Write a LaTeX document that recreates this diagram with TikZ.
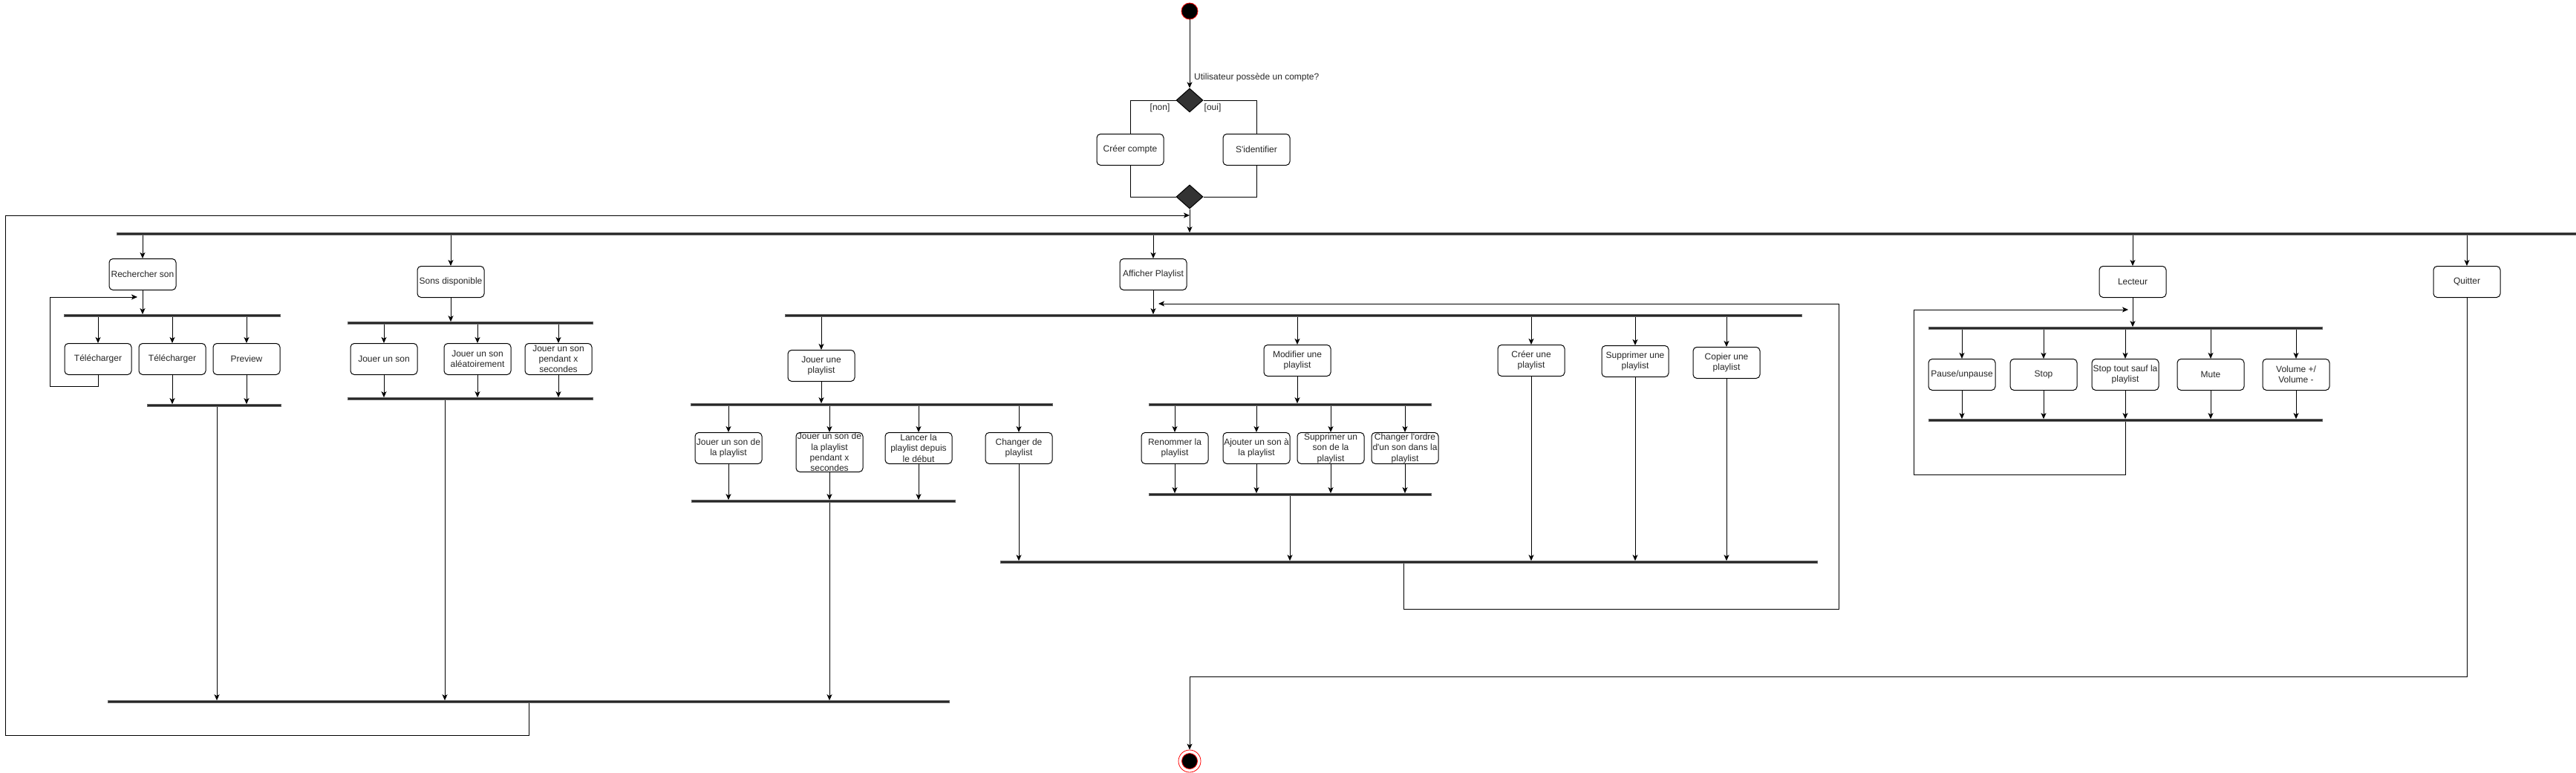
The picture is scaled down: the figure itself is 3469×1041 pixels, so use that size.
\documentclass[tikz,border=0pt]{standalone}
\usepackage{fontspec}
\setmainfont{Liberation Sans}
\usetikzlibrary{positioning, arrows.meta, shapes.geometric, calc}

\begin{document}
\begin{tikzpicture}[
    x=1pt, y=-1pt,
    act/.style={rectangle, rounded corners=5pt, draw=black, line width=1pt, fill=white, anchor=north, minimum width=90pt, minimum height=42pt, inner xsep=1pt, inner ysep=0.5pt, align=center, font=\fontsize{12}{14.4}\selectfont, text=black!85},
    bar/.style={rectangle, fill=black!85, draw=black!60, line width=0.6pt, inner sep=0pt, minimum height=3pt},
    choice/.style={diamond, fill=black!80, draw=black, line width=1pt, inner sep=0pt, minimum width=36pt, minimum height=32pt},
    lbl/.style={font=\fontsize{12}{14.4}\selectfont, text=black!85, inner sep=1pt},
    arr/.style={-{Stealth[length=8pt, width=7pt, inset=2pt]}, line width=1pt, black},
    link/.style={line width=1pt, black},
]
\useasboundingbox (0,0) rectangle (3469,1041);

% Connexion
\node[circle, fill=black, draw=red, line width=0.8pt, minimum size=22pt, inner sep=0pt] (start) at (1602,15) {};
\node[choice] (dec1) at (1602,135) {};
\node[lbl, anchor=west] (q1) at (1607,104) {Utilisateur possède un compte?};
\node[lbl] (gnon) at (1562,145) {[non]};
\node[lbl] (goui) at (1633,145) {[oui]};
\node[act] (creer) at (1522,180) {Créer compte};
\node[act] (ident) at (1692,180) {S\textquotesingle identifier};
\node[choice] (dec2) at (1602,265) {};

\draw[arr] (start) -- (dec1);
\draw[link] (dec1.west) -| (creer.north);
\draw[link] (dec1.east) -| (ident.north);
\draw[link] (creer.south) |- (dec2.west);
\draw[link] (ident.south) |- (dec2.east);

% Menu principal
\node[bar, minimum width=3312pt] (b0) at (1813,315) {};
\coordinate (back0) at (1602,290);
\draw[arr] (dec2.south) -- (dec2.south |- b0.north);

\node[act] (rs) at (192,348) {Rechercher son};
\node[act] (sd) at (607,358) {Sons disponible};
\node[act] (ap) at (1553,348) {Afficher Playlist};
\node[act] (lec) at (2872,358) {Lecteur};
\node[act] (quit) at (3322,358) {Quitter};

\draw[arr] (rs.north |- b0.south) -- (rs.north);
\draw[arr] (sd.north |- b0.south) -- (sd.north);
\draw[arr] (ap.north |- b0.south) -- (ap.north);
\draw[arr] (lec.north |- b0.south) -- (lec.north);
\draw[arr] (quit.north |- b0.south) -- (quit.north);

% Rechercher son
\node[bar, minimum width=291pt] (b1) at (232,425) {};
\node[act] (tel1) at (132,462) {Télécharger};
\node[act] (tel2) at (232,462) {Télécharger};
\node[act] (prev) at (332,462) {Preview};
\node[bar, minimum width=180pt] (b2) at (288,546) {};
\coordinate (rsback) at (185,400);

\draw[arr] (rs.south) -- (rs.south |- b1.north);
\draw[arr] (tel1.north |- b1.south) -- (tel1.north);
\draw[arr] (tel2.north |- b1.south) -- (tel2.north);
\draw[arr] (prev.north |- b1.south) -- (prev.north);
\draw[arr] (tel2.south) -- (tel2.south |- b2.north);
\draw[arr] (prev.south) -- (prev.south |- b2.north);
\draw[arr] (tel1.south) -- ++(0,15) -| (67,400) -- (rsback);

% Sons disponible
\node[bar, minimum width=330pt] (b3) at (633,435) {};
\node[act] (js1) at (517,462) {Jouer un son};
\node[act] (js2) at (643,462) {Jouer un son\\aléatoirement};
\node[act] (js3) at (752,462) {Jouer un son\\pendant x\\secondes};
\node[bar, minimum width=330pt] (b4) at (633,537) {};

\draw[arr] (sd.south) -- (sd.south |- b3.north);
\draw[arr] (js1.north |- b3.south) -- (js1.north);
\draw[arr] (js2.north |- b3.south) -- (js2.north);
\draw[arr] (js3.north |- b3.south) -- (js3.north);
\draw[arr] (js1.south) -- (js1.south |- b4.north);
\draw[arr] (js2.south) -- (js2.south |- b4.north);
\draw[arr] (js3.south) -- (js3.south |- b4.north);

% Retour au menu
\node[bar, minimum width=1133pt] (bF) at (712,945) {};
\coordinate (rsout) at ([xshift=4pt]b2.south);
\coordinate (sdout) at ([xshift=-34pt]b4.south);
\draw[arr] (rsout) -- (rsout |- bF.north);
\draw[arr] (sdout) -- (sdout |- bF.north);
\draw[arr] (bF.south) -- ++(0,44) -| (7,290) -- (back0);

% Afficher Playlist
\node[bar, minimum width=1369pt] (b5) at (1742,425) {};
\node[act] (jp) at (1106,471) {Jouer une\\playlist};
\node[act] (mp) at (1747,464) {Modifier une\\playlist};
\node[act] (cp) at (2062,464) {Créer une\\playlist};
\node[act] (spl) at (2202,465) {Supprimer une\\playlist};
\node[act] (cop) at (2325,467) {Copier une\\playlist};

\draw[arr] (ap.south) -- (ap.south |- b5.north);
\draw[arr] (jp.north |- b5.south) -- (jp.north);
\draw[arr] (mp.north |- b5.south) -- (mp.north);
\draw[arr] (cp.north |- b5.south) -- (cp.north);
\draw[arr] (spl.north |- b5.south) -- (spl.north);
\draw[arr] (cop.north |- b5.south) -- (cop.north);

% Jouer une playlist
\node[bar, minimum width=487pt] (b6) at (1174,545) {};
\node[act] (jp1) at (981,582) {Jouer un son de\\la playlist};
\node[act] (jp2) at (1117,582) {Jouer un son de\\la playlist\\pendant x\\secondes};
\node[act] (jp3) at (1237,582) {Lancer la\\playlist depuis\\le début};
\node[act] (jp4) at (1372,582) {Changer de\\playlist};
\node[bar, minimum width=355pt] (b7) at (1109,675) {};

\draw[arr] (jp.south) -- (jp.south |- b6.north);
\draw[arr] (jp1.north |- b6.south) -- (jp1.north);
\draw[arr] (jp2.north |- b6.south) -- (jp2.north);
\draw[arr] (jp3.north |- b6.south) -- (jp3.north);
\draw[arr] (jp4.north |- b6.south) -- (jp4.north);
\draw[arr] (jp1.south) -- (jp1.south |- b7.north);
\draw[arr] (jp2.south) -- (jp2.south |- b7.north);
\draw[arr] (jp3.south) -- (jp3.south |- b7.north);
\draw[arr] (jp2.south |- b7.south) -- (jp2.south |- bF.north);

% Modifier une playlist
\node[bar, minimum width=380pt] (b8) at (1737,545) {};
\node[act] (mp1) at (1582,582) {Renommer la\\playlist};
\node[act] (mp2) at (1692,582) {Ajouter un son à\\la playlist};
\node[act] (mp3) at (1792,582) {Supprimer un\\son de la\\playlist};
\node[act] (mp4) at (1892,582) {Changer l\textquotesingle ordre\\d\textquotesingle un son dans la\\playlist};
\node[bar, minimum width=380pt] (b9) at (1737,666) {};

\draw[arr] (mp.south) -- (mp.south |- b8.north);
\draw[arr] (mp1.north |- b8.south) -- (mp1.north);
\draw[arr] (mp2.north |- b8.south) -- (mp2.north);
\draw[arr] (mp3.north |- b8.south) -- (mp3.north);
\draw[arr] (mp4.north |- b8.south) -- (mp4.north);
\draw[arr] (mp1.south) -- (mp1.south |- b9.north);
\draw[arr] (mp2.south) -- (mp2.south |- b9.north);
\draw[arr] (mp3.south) -- (mp3.south |- b9.north);
\draw[arr] (mp4.south) -- (mp4.south |- b9.north);

% Retour a Afficher Playlist
\node[bar, minimum width=1100pt] (bJ) at (1897,757) {};
\coordinate (apback) at (1560,409);
\draw[arr] (jp4.south) -- (jp4.south |- bJ.north);
\draw[arr] (b9.south) -- (b9.south |- bJ.north);
\draw[arr] (cp.south) -- (cp.south |- bJ.north);
\draw[arr] (spl.south) -- (spl.south |- bJ.north);
\draw[arr] (cop.south) -- (cop.south |- bJ.north);
\draw[arr] ([xshift=-7pt]bJ.south) -- ++(0,62) -| (2476,409) -- (apback);

% Lecteur
\node[bar, minimum width=530pt] (b10) at (2862,442) {};
\node[act] (pau) at (2642,483) {Pause/unpause};
\node[act] (stp) at (2752,483) {Stop};
\node[act] (sts) at (2862,483) {Stop tout sauf la\\playlist};
\node[act] (mut) at (2977,483) {Mute};
\node[act] (vol) at (3092,483) {Volume +/\\Volume -};
\node[bar, minimum width=530pt] (b11) at (2862,566) {};
\coordinate (lecback) at (2866,417);

\draw[arr] (lec.south) -- (lec.south |- b10.north);
\draw[arr] (pau.north |- b10.south) -- (pau.north);
\draw[arr] (stp.north |- b10.south) -- (stp.north);
\draw[arr] (sts.north |- b10.south) -- (sts.north);
\draw[arr] (mut.north |- b10.south) -- (mut.north);
\draw[arr] (vol.north |- b10.south) -- (vol.north);
\draw[arr] (pau.south) -- (pau.south |- b11.north);
\draw[arr] (stp.south) -- (stp.south |- b11.north);
\draw[arr] (sts.south) -- (sts.south |- b11.north);
\draw[arr] (mut.south) -- (mut.south |- b11.north);
\draw[arr] (vol.south) -- (vol.south |- b11.north);
\draw[arr] (b11.south) -- ++(0,72) -| (2577,417) -- (lecback);

% Quitter
\node[circle, draw=red, fill=white, line width=0.8pt, minimum size=30pt, inner sep=0pt] (fin) at (1602,1025) {};
\node[circle, draw=red, fill=black, line width=0.8pt, minimum size=21pt, inner sep=0pt] (finin) at (fin) {};
\draw[arr] (quit.south) -- ++(0,510) -| (fin.north);
\end{tikzpicture}
\end{document}
